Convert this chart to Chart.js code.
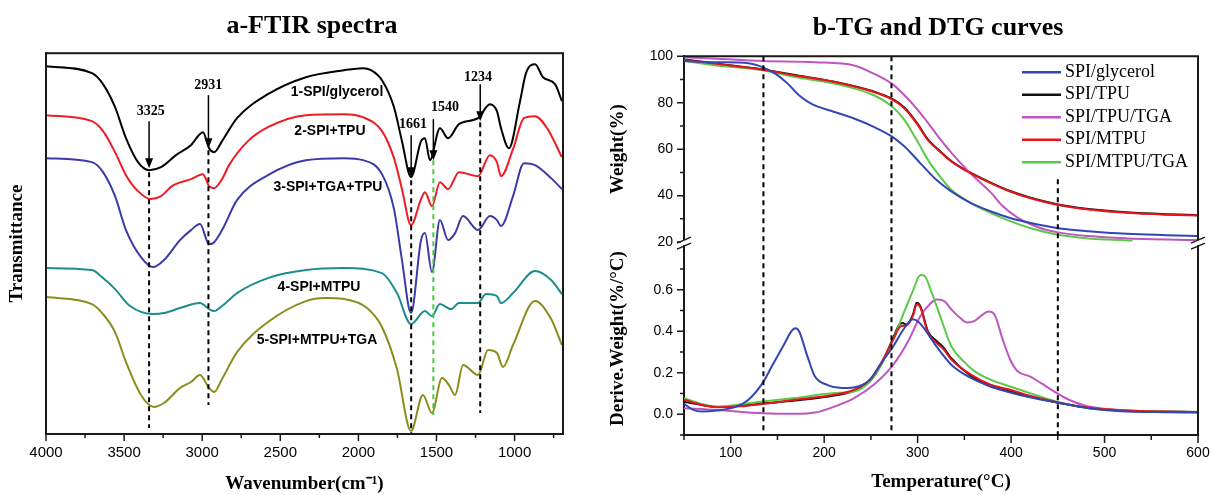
<!DOCTYPE html>
<html>
<head>
<meta charset="utf-8">
<script src="https://cdn.jsdelivr.net/npm/chart.js@4.4.1/dist/chart.umd.min.js"></script>
<style>
  html, body { margin: 0; padding: 0; background: #fff; overflow: hidden; }
  body { width: 1212px; height: 495px; position: relative; }
  .panel { position: absolute; top: 0; height: 495px; }
  #ftirBox { left: 0; width: 624px; }
  #tgBox { left: 600px; width: 676px; }
</style>
</head>
<body>
<div class="panel" id="ftirBox"><canvas id="ftirChart"></canvas></div>
<div class="panel" id="tgBox"><canvas id="tgChart"></canvas></div>
<script>
// ---- a) FTIR spectra : [wavenumber, transmittance (a.u., curves offset)] ----
const ftirGlycerol = [[4000,368],[3706,361],[3635,350],[3558,327],[3488,296],[3411,272],[3341,264],[3264,267],[3168,279],[3072,289],[2995,302],[2956,286],[2924,282],[2873,293],[2777,316],[2579,340],[2336,357],[2092,364],[1971,366],[1919,364],[1849,354],[1772,327],[1721,293],[1663,257],[1599,293],[1574,296],[1542,274],[1478,306],[1426,296],[1356,310],[1234,316],[1158,330],[1113,323],[1087,306],[1036,286],[965,333],[927,361],[869,370],[818,357],[741,350],[697,333]];
const ftirTPU = [[4000,319],[3706,313],[3635,303],[3558,282],[3488,259],[3411,243],[3328,235],[3264,238],[3194,248],[3072,255],[2995,260],[2956,248],[2924,246],[2873,255],[2828,269],[2707,293],[2579,307],[2336,319],[2092,320],[1971,317],[1849,303],[1772,276],[1721,245],[1663,209],[1599,235],[1574,242],[1529,228],[1478,252],[1426,245],[1356,262],[1234,258],[1158,279],[1113,272],[1087,258],[1010,285],[940,316],[869,318],[792,306],[697,277]];
const ftirTGATPU = [[4000,276],[3706,272],[3635,262],[3558,238],[3488,204],[3392,177],[3315,167],[3245,174],[3142,194],[3072,204],[3014,210],[2956,190],[2930,191],[2873,204],[2777,234],[2579,259],[2336,274],[2092,276],[1971,274],[1849,260],[1772,225],[1721,174],[1663,121],[1599,194],[1574,201],[1529,162],[1478,214],[1426,194],[1381,201],[1330,218],[1234,204],[1158,218],[1113,214],[1087,208],[1010,238],[940,271],[869,269],[766,256],[697,245]];
const ftirMTPU = [[4000,166],[3706,164],[3635,156],[3558,145],[3462,128],[3315,120],[3245,121],[3142,126],[3014,131],[2956,125],[2924,123],[2873,128],[2777,141],[2579,156],[2336,164],[2092,166],[1849,161],[1753,141],[1663,110],[1574,123],[1529,118],[1478,130],[1407,125],[1356,131],[1234,131],[1183,140],[1113,138],[1087,131],[1010,141],[869,163],[766,154],[697,140]];
const ftirMTPUTGA = [[4000,137],[3706,130],[3635,120],[3558,102],[3488,72],[3392,39],[3309,27],[3245,31],[3142,46],[3072,52],[3014,59],[2956,46],[2924,42],[2873,55],[2777,82],[2579,112],[2336,133],[2214,136],[2092,135],[1945,126],[1849,107],[1753,65],[1663,3],[1587,39],[1529,21],[1465,56],[1420,49],[1381,39],[1330,69],[1234,59],[1170,84],[1113,81],[1074,67],[1010,89],[869,133],[766,115],[697,89]];

const ftirNames = ['1-SPI/glycerol', '2-SPI+TPU', '3-SPI+TGA+TPU', '4-SPI+MTPU', '5-SPI+MTPU+TGA'];
const ftirNameWn = [2137, 2182, 2195, 2252, 2265];
const ftirNameY = [342, 303, 247, 147, 94];

const wnMajor = [4000, 3500, 3000, 2500, 2000, 1500, 1000];
const wnMinor = [3750, 3250, 2750, 2250, 1750, 1250, 750];

// peak markers: arrow + dashed guide
const peakMarks = [
  { label: '3325', wn: 3340, labelWn: 3330, labelY: 323, arrowFrom: 313, arrowTo: 266, dashFrom: 262, dashTo: 6, dash: '#000' },
  { label: '2931', wn: 2960, labelWn: 2962, labelY: 349, arrowFrom: 339, arrowTo: 286, dashFrom: 284, dashTo: 29, dash: '#000' },
  { label: '1661', wn: 1662, labelWn: 1650, labelY: 310, arrowFrom: 299, arrowTo: 257, dashFrom: 254, dashTo: 0, dash: '#000' },
  { label: '1540', wn: 1520, labelWn: 1446, labelY: 327, arrowFrom: 315, arrowTo: 274, dashFrom: 274, dashTo: 19, dash: '#4cc83c' },
  { label: '1234', wn: 1220, labelWn: 1234, labelY: 357, arrowFrom: 350, arrowTo: 313, dashFrom: 312, dashTo: 21, dash: '#000' }
];

// ---- b) TG (weight %) and DTG (%/°C) : [temperature, value] ----
const tgGlycerol = [[50,97.9],[85,97.4],[119,97.0],[134,95.3],[148,92.4],[161,88.2],[173,83.2],[186,79.6],[211,76.0],[232,73.2],[253,69.6],[273,65.3],[286,61.1],[303,53.9],[320,46.8],[336,41.8],[357,36.8],[378,33.3],[399,30.4],[420,28.3],[449,26.1],[483,24.7],[524,23.6],[566,23.0],[600,22.6]];
const tgTPU = [[50,98.6],[85,96.8],[134,94.3],[169,91.9],[211,89.0],[253,84.8],[273,81.6],[286,77.8],[299,71.4],[311,64.2],[324,59.1],[336,54.9],[353,50.6],[378,45.6],[399,42.0],[420,39.2],[449,36.3],[483,34.2],[524,32.8],[566,32.0],[600,31.6]];
const tgTPUTGA = [[50,99.6],[85,98.9],[134,97.9],[190,97.4],[232,96.0],[253,92.5],[273,88.0],[290,81.5],[307,73.5],[320,66.5],[336,58.5],[353,51.0],[366,46.0],[378,41.5],[391,35.5],[407,30.5],[428,26.5],[449,24.3],[483,22.6],[524,21.6],[566,21.1],[600,20.9]];
const tgMTPU = [[50,98.4],[85,96.7],[134,94.2],[169,91.7],[211,88.9],[253,84.6],[273,81.3],[286,77.5],[299,71.1],[311,63.9],[324,58.9],[336,54.7],[353,50.4],[378,45.4],[399,41.8],[420,39.0],[449,36.1],[483,34.0],[524,32.6],[566,31.8],[600,31.4]];
const tgMTPUTGA = [[50,97.9],[85,96.0],[134,93.9],[169,91.0],[211,88.2],[253,83.2],[273,78.2],[286,72.5],[299,63.9],[311,55.4],[324,48.2],[336,42.5],[357,36.8],[378,32.6],[399,29.0],[420,26.1],[449,23.3],[483,21.6],[504,21.1],[530,20.7]];

const dtgGlycerol = [[50,0.050],[60,0.021],[69,0.013],[85,0.018],[106,0.037],[119,0.070],[134,0.150],[144,0.231],[157,0.336],[165,0.401],[169,0.415],[173,0.401],[182,0.280],[190,0.183],[203,0.142],[219,0.126],[236,0.134],[249,0.167],[261,0.247],[274,0.328],[286,0.417],[295,0.458],[301,0.445],[309,0.401],[320,0.328],[336,0.239],[357,0.175],[378,0.134],[399,0.105],[420,0.082],[449,0.057],[483,0.029],[524,0.013],[566,0.010],[600,0.008]];
const dtgTPU = [[50,0.060],[69,0.045],[85,0.035],[106,0.040],[134,0.052],[169,0.066],[211,0.090],[232,0.113],[249,0.160],[261,0.240],[274,0.370],[280,0.430],[284,0.440],[288,0.432],[295,0.480],[299,0.538],[303,0.520],[311,0.400],[320,0.355],[328,0.320],[336,0.270],[357,0.185],[378,0.135],[399,0.110],[420,0.085],[449,0.056],[483,0.030],[524,0.017],[600,0.010]];
const dtgTPUTGA = [[50,0.029],[85,0.021],[134,0.005],[169,0.002],[190,0.008],[211,0.037],[232,0.078],[253,0.142],[274,0.239],[290,0.353],[303,0.474],[313,0.530],[320,0.553],[328,0.547],[336,0.506],[345,0.466],[353,0.442],[361,0.450],[370,0.482],[376,0.495],[382,0.482],[391,0.361],[399,0.264],[407,0.207],[420,0.183],[432,0.150],[449,0.102],[462,0.070],[483,0.037],[524,0.018],[566,0.013],[600,0.011]];
const dtgMTPU = [[50,0.070],[69,0.045],[85,0.034],[106,0.037],[134,0.050],[169,0.070],[211,0.094],[232,0.118],[249,0.167],[261,0.247],[274,0.361],[282,0.425],[288,0.429],[295,0.474],[299,0.530],[303,0.514],[311,0.393],[320,0.344],[328,0.312],[336,0.264],[357,0.191],[378,0.142],[399,0.118],[420,0.089],[449,0.058],[483,0.032],[524,0.018],[600,0.011]];
const dtgMTPUTGA = [[50,0.078],[69,0.050],[85,0.037],[106,0.045],[134,0.061],[169,0.078],[211,0.102],[232,0.110],[249,0.158],[261,0.239],[274,0.361],[286,0.498],[295,0.595],[303,0.671],[307,0.668],[315,0.587],[324,0.474],[336,0.328],[349,0.256],[361,0.207],[378,0.167],[399,0.134],[420,0.102],[449,0.061],[483,0.029],[524,0.018],[600,0.011]];

const tgNames = ['SPI/glycerol', 'SPI/TPU', 'SPI/TPU/TGA', 'SPI/MTPU', 'SPI/MTPU/TGA'];
const tgColors = ['#3246b4', '#111111', '#c055c0', '#e8141c', '#5cc84a'];

const tMajor = [100, 200, 300, 400, 500, 600];
const tMinor = [50, 150, 250, 350, 450, 550];
const wMajor = [20, 40, 60, 80, 100];
const wMinor = [30, 50, 70, 90];
const dMajor = [0, 0.2, 0.4, 0.6];
const dMinor = [-0.1, 0.1, 0.3, 0.5, 0.7];

const tgGuideTemps = [135, 272, 450];
const tgGuideTops = [100, 100, 47];

// ---- helpers ----
const SERIF = '"Liberation Serif", "Times New Roman", serif';
const SANS = '"Liberation Sans", Arial, sans-serif';
Chart.defaults.font.family = SANS;
Chart.defaults.color = '#000';

function toPoints(pairs) {
    return pairs.map(p => ({ x: p[0], y: p[1] }));
}

function drawTickMarks(ctx, scale, values, len) {
    ctx.beginPath();
    values.forEach(v => {
        const p = scale.getPixelForValue(v);
        if (scale.isHorizontal()) {
            ctx.moveTo(p, scale.top);
            ctx.lineTo(p, scale.top + len);
        } else {
            ctx.moveTo(scale.right, p);
            ctx.lineTo(scale.right - len, p);
        }
    });
    ctx.stroke();
}

function drawArrow(ctx, x, yFrom, yTo) {
    ctx.lineWidth = 1.5;
    ctx.beginPath();
    ctx.moveTo(x, yFrom);
    ctx.lineTo(x, yTo - 8);
    ctx.stroke();
    ctx.beginPath();
    ctx.moveTo(x, yTo);
    ctx.lineTo(x - 4, yTo - 10);
    ctx.lineTo(x + 4, yTo - 10);
    ctx.closePath();
    ctx.fill();
}

function drawBreak(ctx, x, y) {
    ctx.fillStyle = '#fff';
    ctx.fillRect(x - 3, y - 2, 6, 5);
    ctx.beginPath();
    ctx.moveTo(x - 7, y + 1);
    ctx.lineTo(x + 7, y - 5);
    ctx.moveTo(x - 7, y + 7);
    ctx.lineTo(x + 7, y + 1);
    ctx.stroke();
}

const axisTitleFont = { family: SERIF, size: 19, weight: 'bold' };
const panelTitleFont = { family: SERIF, size: 26, weight: 'bold' };

// spacer on the right so the panel title is centred where the figure has it
function rightSpacer(width) {
    return {
        type: 'linear', position: 'right', display: true,
        afterFit: s => { s.width = width; },
        ticks: { display: false },
        grid: { display: false, drawTicks: false },
        border: { display: false }
    };
}

// ---- FTIR decorations ----
const ftirDecor = {
    id: 'ftirDecor',
    afterDatasetsDraw(chart) {
        const { ctx } = chart;
        const x = chart.scales.x, y = chart.scales.y;
        ctx.save();
        peakMarks.forEach(m => {
            const px = x.getPixelForValue(m.wn);
            ctx.strokeStyle = m.dash;
            ctx.lineWidth = 2;
            ctx.setLineDash([5, 4]);
            ctx.beginPath();
            ctx.moveTo(px, y.getPixelForValue(m.dashFrom));
            ctx.lineTo(px, y.getPixelForValue(m.dashTo));
            ctx.stroke();
            ctx.setLineDash([]);
            ctx.strokeStyle = '#000';
            ctx.fillStyle = '#000';
            drawArrow(ctx, px, y.getPixelForValue(m.arrowFrom), y.getPixelForValue(m.arrowTo));
            ctx.font = 'bold 14px ' + SERIF;
            ctx.textAlign = 'center';
            ctx.textBaseline = 'middle';
            ctx.fillText(m.label, x.getPixelForValue(m.labelWn), y.getPixelForValue(m.labelY));
        });
        ctx.font = 'bold 14px ' + SANS;
        ctx.textAlign = 'center';
        ctx.textBaseline = 'middle';
        chart.data.datasets.forEach((ds, i) => {
            ctx.fillText(ds.label, x.getPixelForValue(ftirNameWn[i]), y.getPixelForValue(ftirNameY[i]));
        });
        ctx.restore();
    },
    afterDraw(chart) {
        const { ctx, chartArea: a } = chart;
        ctx.save();
        ctx.strokeStyle = '#1a1a1a';
        ctx.lineWidth = 2;
        ctx.strokeRect(a.left, a.top, a.right - a.left, a.bottom - a.top);
        ctx.lineWidth = 1.5;
        drawTickMarks(ctx, chart.scales.x, wnMajor, 7);
        drawTickMarks(ctx, chart.scales.x, wnMinor, 4);
        ctx.restore();
    }
};

const ftirColors = ['#000000', '#ee1c24', '#3a3aa8', '#1e8c8c', '#8c8c1e'];
const ftirSeries = [ftirGlycerol, ftirTPU, ftirTGATPU, ftirMTPU, ftirMTPUTGA];

new Chart(document.getElementById('ftirChart'), {
    type: 'line',
    data: {
        datasets: ftirSeries.map((s, i) => ({
            label: ftirNames[i],
            data: toPoints(s),
            borderColor: ftirColors[i],
            borderWidth: 2,
            pointRadius: 0,
            cubicInterpolationMode: 'monotone'
        }))
    },
    options: {
        responsive: true,
        maintainAspectRatio: false,
        animation: false,
        layout: { padding: 0 },
        plugins: {
            legend: { display: false },
            tooltip: { enabled: false },
            title: {
                display: true, text: 'a-FTIR spectra', color: '#000',
                font: panelTitleFont, padding: { top: 11, bottom: 11 }
            }
        },
        scales: {
            x: {
                type: 'linear', reverse: true, min: 690, max: 4000,
                afterBuildTicks: s => { s.ticks = wnMajor.map(v => ({ value: v })); },
                afterFit: s => { s.height = 61; },
                ticks: { callback: v => String(v), font: { family: SANS, size: 15 }, color: '#000', padding: 10, autoSkip: false, maxRotation: 0 },
                grid: { display: false, drawTicks: false },
                border: { color: '#1a1a1a', width: 2 },
                title: { display: true, text: 'Wavenumber(cm\u207B\u00B9)', font: axisTitleFont, color: '#000', padding: { top: 0, bottom: 0 } }
            },
            y: {
                type: 'linear', min: 0, max: 381,
                afterFit: s => { s.width = 46; },
                ticks: { display: false },
                grid: { display: false, drawTicks: false },
                border: { color: '#1a1a1a', width: 2 },
                title: { display: true, text: 'Transmittance', font: axisTitleFont, color: '#000', padding: { top: 6, bottom: 0 } }
            },
            pad: rightSpacer(61)
        }
    },
    plugins: [ftirDecor]
});

// ---- TG / DTG decorations ----
const tgDecor = {
    id: 'tgDecor',
    afterDatasetsDraw(chart) {
        const { ctx, chartArea: a } = chart;
        const x = chart.scales.x, tg = chart.scales.tg;
        ctx.save();
        ctx.strokeStyle = '#000';
        ctx.lineWidth = 2;
        ctx.setLineDash([5, 4]);
        tgGuideTemps.forEach((t, i) => {
            const px = x.getPixelForValue(t);
            ctx.beginPath();
            ctx.moveTo(px, tg.getPixelForValue(tgGuideTops[i]));
            ctx.lineTo(px, a.bottom);
            ctx.stroke();
        });
        ctx.restore();
    },
    afterDraw(chart) {
        const { ctx, chartArea: a } = chart;
        const tg = chart.scales.tg;
        ctx.save();
        ctx.strokeStyle = '#1a1a1a';
        ctx.lineWidth = 2;
        ctx.beginPath();
        ctx.moveTo(a.left, a.top);
        ctx.lineTo(a.right, a.top);
        ctx.lineTo(a.right, a.bottom);
        ctx.stroke();
        ctx.lineWidth = 1.5;
        drawTickMarks(ctx, chart.scales.x, tMajor, 8);
        drawTickMarks(ctx, chart.scales.x, tMinor, 5);
        drawTickMarks(ctx, tg, wMajor, 7);
        drawTickMarks(ctx, tg, wMinor, 4);
        drawTickMarks(ctx, chart.scales.dtg, dMajor, 7);
        drawTickMarks(ctx, chart.scales.dtg, dMinor, 4);
        ctx.strokeStyle = '#1a1a1a';
        ctx.lineWidth = 1.5;
        drawBreak(ctx, a.left, tg.bottom);
        drawBreak(ctx, a.right, tg.bottom);

        // legend inside the upper panel
        ctx.font = '18px ' + SERIF;
        ctx.textAlign = 'left';
        ctx.textBaseline = 'middle';
        chart.data.datasets.filter(ds => ds.yAxisID === 'tg').forEach((ds, i) => {
            const yy = a.top + 16 + i * 22.5;
            ctx.strokeStyle = ds.borderColor;
            ctx.lineWidth = 2.5;
            ctx.beginPath();
            ctx.moveTo(a.right - 176, yy);
            ctx.lineTo(a.right - 137, yy);
            ctx.stroke();
            ctx.fillStyle = '#000';
            ctx.fillText(ds.label, a.right - 133, yy);
        });
        ctx.restore();
    }
};

const tgSeries = [tgGlycerol, tgTPU, tgTPUTGA, tgMTPU, tgMTPUTGA];
const dtgSeries = [dtgGlycerol, dtgTPU, dtgTPUTGA, dtgMTPU, dtgMTPUTGA];
const drawOrder = [1, 5, 2, 1, 1];

const tgDatasets = tgSeries.map((s, i) => ({
    label: tgNames[i], yAxisID: 'tg', data: toPoints(s), order: drawOrder[i],
    borderColor: tgColors[i], borderWidth: 2, pointRadius: 0, cubicInterpolationMode: 'monotone'
}));
const dtgDatasets = dtgSeries.map((s, i) => ({
    label: tgNames[i], yAxisID: 'dtg', data: toPoints(s), order: drawOrder[i],
    borderColor: tgColors[i], borderWidth: 2, pointRadius: 0, cubicInterpolationMode: 'monotone'
}));

const leftAxisCommon = {
    type: 'linear', position: 'left', stack: 'tga',
    afterFit: s => { s.width = 84; },
    grid: { display: false, drawTicks: false },
    border: { color: '#1a1a1a', width: 2 }
};

new Chart(document.getElementById('tgChart'), {
    type: 'line',
    data: { datasets: tgDatasets.concat(dtgDatasets) },
    options: {
        responsive: true,
        maintainAspectRatio: false,
        animation: false,
        layout: { padding: 0 },
        plugins: {
            legend: { display: false },
            tooltip: { enabled: false },
            title: {
                display: true, text: 'b-TG and DTG curves', color: '#000',
                font: panelTitleFont, padding: { top: 13, bottom: 12 }
            }
        },
        scales: {
            x: {
                type: 'linear', min: 50, max: 600,
                afterBuildTicks: s => { s.ticks = tMajor.map(v => ({ value: v })); },
                afterFit: s => { s.height = 60; },
                ticks: { callback: v => String(v), font: { family: SANS, size: 14 }, color: '#000', padding: 10, autoSkip: false, maxRotation: 0 },
                grid: { display: false, drawTicks: false },
                border: { color: '#1a1a1a', width: 2 },
                title: { display: true, text: 'Temperature(\u00B0C)', font: axisTitleFont, color: '#000', padding: { top: 0, bottom: 2 } }
            },
            tg: Object.assign({}, leftAxisCommon, {
                min: 20, max: 100, weight: 1, stackWeight: 186,
                afterBuildTicks: s => { s.ticks = wMajor.map(v => ({ value: v })); },
                ticks: { callback: v => String(v), font: { family: SANS, size: 14 }, color: '#000', padding: 11, autoSkip: false },
                title: { display: true, text: 'Weight(%)', font: axisTitleFont, color: '#000', padding: { top: 7, bottom: 0 } }
            }),
            dtg: Object.assign({}, leftAxisCommon, {
                min: -0.1, max: 0.83, weight: 0, stackWeight: 193,
                afterBuildTicks: s => { s.ticks = dMajor.map(v => ({ value: v })); },
                ticks: { callback: v => Number(v).toFixed(1), font: { family: SANS, size: 14 }, color: '#000', padding: 11, autoSkip: false },
                title: { display: true, text: 'Derive.Weight(%/\u00B0C)', font: axisTitleFont, color: '#000', padding: { top: 7, bottom: 0 } }
            }),
            pad: rightSpacer(78)
        }
    },
    plugins: [tgDecor]
});
</script>
</body>
</html>
